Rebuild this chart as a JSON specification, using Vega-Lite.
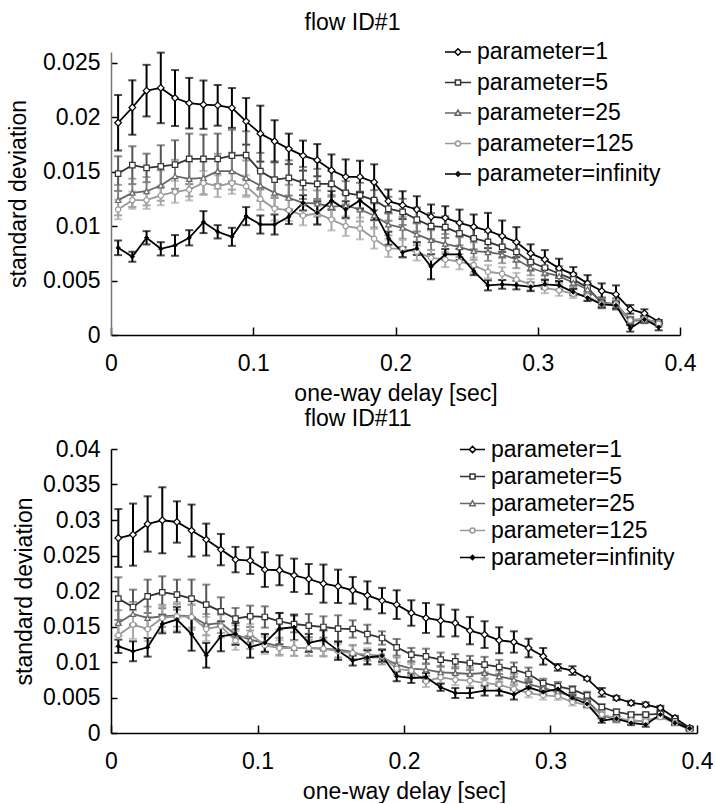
{
"$schema": "https://vega.github.io/schema/vega-lite/v6.json",
"padding": {"left": 7, "top": 12, "right": 0, "bottom": 0},
"columns": 1,
"align": "none",
"spacing": 3,
"resolve": {"scale": {"shape": "independent", "stroke": "independent", "fill": "independent", "color": "independent"}, "legend": {"shape": "independent", "stroke": "independent", "fill": "independent"}},
"config": {
 "font": "Liberation Sans",
 "view": {"stroke": null},
 "axis": {"labelFontSize": 23, "titleFontSize": 23, "titleFontWeight": "normal", "labelColor": "black", "titleColor": "black", "grid": false, "domainColor": "black", "tickColor": "black", "domainWidth": 1.5, "tickWidth": 1.5, "labelFont": "Liberation Sans", "titleFont": "Liberation Sans", "labelFlush": false},
 "title": {"fontSize": 23, "fontWeight": "normal", "color": "black", "font": "Liberation Sans"},
 "legend": {"labelFontSize": 23, "labelColor": "black", "labelOffset": 5, "padding": 0, "symbolStrokeWidth": 1.5, "labelFont": "Liberation Sans", "labelLimit": 400}
},
"concat": [
{
 "width": 569, "height": 283,
 "title": {"text": "flow ID#1", "dx": -43, "offset": 3},
 "data": {"name": "top"},
 "encoding": {
  "x": {"field": "x", "type": "quantitative", "scale": {"domain": [0, 0.4], "nice": false, "zero": false}, "axis": {"values": [0, 0.1, 0.2, 0.3, 0.4], "format": "~g", "title": "one-way delay [sec]", "tickSize": -8, "labelPadding": 25, "titlePadding": 7}},
  "y": {"field": "y", "type": "quantitative", "scale": {"domain": [0, 0.026], "nice": false}, "axis": {"values": [0, 0.005, 0.01, 0.015, 0.02, 0.025], "format": "~g", "title": "standard deviation", "tickSize": -6, "labelPadding": 17, "titlePadding": 11.5, "domainColor": "#777777"}}
 },
 "layer": [
  {"mark": {"type": "errorbar", "ticks": {"size": 8}, "thickness": 2}, "encoding": {"yError": {"field": "e"}, "color": {"field": "s", "type": "nominal", "scale": {"domain": ["1", "5", "25", "125", "infinity"], "range": ["#000000", "#555555", "#808080", "#aaaaaa", "#000000"]}, "legend": null}}},
  {"mark": {"type": "line", "strokeWidth": 1.8}, "encoding": {"color": {"field": "s", "type": "nominal", "scale": {"domain": ["1", "5", "25", "125", "infinity"], "range": ["#000000", "#333333", "#666666", "#999999", "#000000"]}, "legend": null}}},
  {"transform": [{"filter": "datum.s == '1'"}], "mark": {"type": "point", "shape": "diamond", "filled": true, "fill": "white", "stroke": "black", "strokeWidth": 1.2, "size": 45, "opacity": 1}},
  {"transform": [{"filter": "datum.s == '5'"}], "mark": {"type": "point", "shape": "square", "filled": true, "fill": "white", "stroke": "#333333", "strokeWidth": 1.2, "size": 30, "opacity": 1}},
  {"transform": [{"filter": "datum.s == '25'"}], "mark": {"type": "point", "shape": "triangle-up", "filled": true, "fill": "white", "stroke": "#666666", "strokeWidth": 1.2, "size": 30, "opacity": 1}},
  {"transform": [{"filter": "datum.s == '125'"}], "mark": {"type": "point", "shape": "circle", "filled": true, "fill": "white", "stroke": "#999999", "strokeWidth": 1.2, "size": 28, "opacity": 1}},
  {"transform": [{"filter": "datum.s == 'infinity'"}], "mark": {"type": "point", "shape": "diamond", "filled": true, "fill": "black", "stroke": "black", "strokeWidth": 1, "size": 18, "opacity": 1}},
  {"mark": {"type": "point", "filled": true, "opacity": 0, "size": 676},
   "encoding": {
    "shape": {"field": "s", "type": "nominal", "scale": {"domain": ["1", "5", "25", "125", "infinity"], "range": ["M-1,0H-0.25M0.25,0H1M-0.25,0L0,-0.25L0.25,0L0,0.25Z", "M-1,0H-0.2M0.2,0H1M-0.2,-0.2H0.2V0.2H-0.2Z", "M-1,0H-0.12M0.12,0H1M-0.22,0.17L0,-0.22L0.22,0.17Z", "M-1,0H-0.2M0.2,0H1M-0.2,0A0.2,0.2,0,1,0,0.2,0A0.2,0.2,0,1,0,-0.2,0Z", "M-1,0H1M-0.17,0L0,-0.17L0.17,0L0,0.17Z"]}, "legend": {"title": null, "orient": "none", "legendX": 333, "legendY": -14, "symbolSize": 676, "rowPadding": 4.5, "labelFontSize": 23, "labelLimit": 400, "labelExpr": "'parameter=' + datum.label"}},
    "stroke": {"field": "s", "type": "nominal", "scale": {"domain": ["1", "5", "25", "125", "infinity"], "range": ["#000000", "#333333", "#666666", "#999999", "#000000"]}, "legend": {"title": null, "orient": "none", "legendX": 333, "legendY": -14, "symbolSize": 676, "rowPadding": 4.5, "labelFontSize": 23, "labelLimit": 400, "labelExpr": "'parameter=' + datum.label"}},
    "fill": {"field": "s", "type": "nominal", "scale": {"domain": ["1", "5", "25", "125", "infinity"], "range": ["#ffffff", "#ffffff", "#ffffff", "#ffffff", "#000000"]}, "legend": {"title": null, "orient": "none", "legendX": 333, "legendY": -14, "symbolSize": 676, "rowPadding": 4.5, "labelFontSize": 23, "labelLimit": 400, "labelExpr": "'parameter=' + datum.label"}}
   }}
 ],
 "resolve": {"scale": {"color": "independent"}}
},
{
 "width": 586, "height": 284,
 "title": {"text": "flow ID#11", "dx": -46, "offset": 5},
 "data": {"name": "bot"},
 "encoding": {
  "x": {"field": "x", "type": "quantitative", "scale": {"domain": [0, 0.4], "nice": false, "zero": false}, "axis": {"values": [0, 0.1, 0.2, 0.3, 0.4], "format": "~g", "title": "one-way delay [sec]", "tickSize": -8, "labelPadding": 25, "titlePadding": 7}},
  "y": {"field": "y", "type": "quantitative", "scale": {"domain": [0, 0.04], "nice": false}, "axis": {"values": [0, 0.005, 0.01, 0.015, 0.02, 0.025, 0.03, 0.035, 0.04], "format": "~g", "title": "standard deviation", "tickSize": -6, "labelPadding": 17, "titlePadding": 5.5}}
 },
 "layer": [
  {"mark": {"type": "errorbar", "ticks": {"size": 8}, "thickness": 2}, "encoding": {"yError": {"field": "e"}, "color": {"field": "s", "type": "nominal", "scale": {"domain": ["1", "5", "25", "125", "infinity"], "range": ["#000000", "#555555", "#808080", "#aaaaaa", "#000000"]}, "legend": null}}},
  {"mark": {"type": "line", "strokeWidth": 1.8}, "encoding": {"color": {"field": "s", "type": "nominal", "scale": {"domain": ["1", "5", "25", "125", "infinity"], "range": ["#000000", "#333333", "#666666", "#999999", "#000000"]}, "legend": null}}},
  {"transform": [{"filter": "datum.s == '1'"}], "mark": {"type": "point", "shape": "diamond", "filled": true, "fill": "white", "stroke": "black", "strokeWidth": 1.2, "size": 45, "opacity": 1}},
  {"transform": [{"filter": "datum.s == '5'"}], "mark": {"type": "point", "shape": "square", "filled": true, "fill": "white", "stroke": "#333333", "strokeWidth": 1.2, "size": 30, "opacity": 1}},
  {"transform": [{"filter": "datum.s == '25'"}], "mark": {"type": "point", "shape": "triangle-up", "filled": true, "fill": "white", "stroke": "#666666", "strokeWidth": 1.2, "size": 30, "opacity": 1}},
  {"transform": [{"filter": "datum.s == '125'"}], "mark": {"type": "point", "shape": "circle", "filled": true, "fill": "white", "stroke": "#999999", "strokeWidth": 1.2, "size": 28, "opacity": 1}},
  {"transform": [{"filter": "datum.s == 'infinity'"}], "mark": {"type": "point", "shape": "diamond", "filled": true, "fill": "black", "stroke": "black", "strokeWidth": 1, "size": 18, "opacity": 1}},
  {"mark": {"type": "point", "filled": true, "opacity": 0, "size": 625},
   "encoding": {
    "shape": {"field": "s", "type": "nominal", "scale": {"domain": ["1", "5", "25", "125", "infinity"], "range": ["M-1,0H-0.25M0.25,0H1M-0.25,0L0,-0.25L0.25,0L0,0.25Z", "M-1,0H-0.2M0.2,0H1M-0.2,-0.2H0.2V0.2H-0.2Z", "M-1,0H-0.12M0.12,0H1M-0.22,0.17L0,-0.22L0.22,0.17Z", "M-1,0H-0.2M0.2,0H1M-0.2,0A0.2,0.2,0,1,0,0.2,0A0.2,0.2,0,1,0,-0.2,0Z", "M-1,0H1M-0.17,0L0,-0.17L0.17,0L0,0.17Z"]}, "legend": {"title": null, "orient": "none", "legendX": 348, "legendY": -13, "symbolSize": 625, "rowPadding": 1, "labelFontSize": 23, "labelLimit": 400, "labelExpr": "'parameter=' + datum.label"}},
    "stroke": {"field": "s", "type": "nominal", "scale": {"domain": ["1", "5", "25", "125", "infinity"], "range": ["#000000", "#333333", "#666666", "#999999", "#000000"]}, "legend": {"title": null, "orient": "none", "legendX": 348, "legendY": -13, "symbolSize": 625, "rowPadding": 1, "labelFontSize": 23, "labelLimit": 400, "labelExpr": "'parameter=' + datum.label"}},
    "fill": {"field": "s", "type": "nominal", "scale": {"domain": ["1", "5", "25", "125", "infinity"], "range": ["#ffffff", "#ffffff", "#ffffff", "#ffffff", "#000000"]}, "legend": {"title": null, "orient": "none", "legendX": 348, "legendY": -13, "symbolSize": 625, "rowPadding": 1, "labelFontSize": 23, "labelLimit": 400, "labelExpr": "'parameter=' + datum.label"}}
   }}
 ],
 "resolve": {"scale": {"color": "independent"}}
}
],
"datasets": {
"top": [
{"s":"1","x":0.005,"y":0.0195,"e":0.00255},{"s":"1","x":0.015,"y":0.0209,"e":0.0025},{"s":"1","x":0.025,"y":0.02245,"e":0.00237},{"s":"1","x":0.035,"y":0.0227,"e":0.00324},{"s":"1","x":0.045,"y":0.02177,"e":0.00257},{"s":"1","x":0.055,"y":0.0213,"e":0.00232},{"s":"1","x":0.065,"y":0.02116,"e":0.00222},{"s":"1","x":0.075,"y":0.0211,"e":0.00187},{"s":"1","x":0.085,"y":0.02086,"e":0.00183},{"s":"1","x":0.095,"y":0.01963,"e":0.00214},{"s":"1","x":0.105,"y":0.0185,"e":0.00257},{"s":"1","x":0.115,"y":0.0178,"e":0.00193},{"s":"1","x":0.125,"y":0.0171,"e":0.0014},{"s":"1","x":0.135,"y":0.01648,"e":0.00138},{"s":"1","x":0.145,"y":0.01606,"e":0.00148},{"s":"1","x":0.155,"y":0.01514,"e":0.00145},{"s":"1","x":0.165,"y":0.01453,"e":0.0016},{"s":"1","x":0.175,"y":0.01453,"e":0.00148},{"s":"1","x":0.185,"y":0.01404,"e":0.00164},{"s":"1","x":0.195,"y":0.0123,"e":0.00107},{"s":"1","x":0.205,"y":0.01193,"e":0.00128},{"s":"1","x":0.215,"y":0.01153,"e":0.00122},{"s":"1","x":0.225,"y":0.01086,"e":0.00113},{"s":"1","x":0.235,"y":0.01076,"e":0.00107},{"s":"1","x":0.245,"y":0.0103,"e":0.00122},{"s":"1","x":0.255,"y":0.00994,"e":0.00113},{"s":"1","x":0.265,"y":0.0096,"e":0.00162},{"s":"1","x":0.275,"y":0.00908,"e":0.00144},{"s":"1","x":0.285,"y":0.00853,"e":0.00138},{"s":"1","x":0.295,"y":0.0075,"e":0.00083},{"s":"1","x":0.305,"y":0.00694,"e":0.00086},{"s":"1","x":0.315,"y":0.00612,"e":0.00089},{"s":"1","x":0.325,"y":0.00557,"e":0.00067},{"s":"1","x":0.335,"y":0.00474,"e":0.00076},{"s":"1","x":0.345,"y":0.00404,"e":0.0007},{"s":"1","x":0.355,"y":0.00373,"e":0.00083},{"s":"1","x":0.365,"y":0.00236,"e":0.0004},{"s":"1","x":0.375,"y":0.00199,"e":0.00037},{"s":"1","x":0.385,"y":0.00122,"e":0.00015},
{"s":"5","x":0.005,"y":0.01483,"e":0.00159},{"s":"5","x":0.015,"y":0.0156,"e":0.00174},{"s":"5","x":0.025,"y":0.01535,"e":0.00131},{"s":"5","x":0.035,"y":0.0155,"e":0.00193},{"s":"5","x":0.045,"y":0.01566,"e":0.00223},{"s":"5","x":0.055,"y":0.01618,"e":0.00232},{"s":"5","x":0.065,"y":0.01618,"e":0.00223},{"s":"5","x":0.075,"y":0.01618,"e":0.00232},{"s":"5","x":0.085,"y":0.01648,"e":0.00238},{"s":"5","x":0.095,"y":0.01652,"e":0.0022},{"s":"5","x":0.105,"y":0.01505,"e":0.00168},{"s":"5","x":0.115,"y":0.01428,"e":0.00168},{"s":"5","x":0.125,"y":0.01443,"e":0.00162},{"s":"5","x":0.135,"y":0.01397,"e":0.00147},{"s":"5","x":0.145,"y":0.01388,"e":0.00138},{"s":"5","x":0.155,"y":0.01388,"e":0.00116},{"s":"5","x":0.165,"y":0.01306,"e":0.00107},{"s":"5","x":0.175,"y":0.01282,"e":0.00116},{"s":"5","x":0.185,"y":0.01239,"e":0.00092},{"s":"5","x":0.195,"y":0.0116,"e":0.0011},{"s":"5","x":0.205,"y":0.01131,"e":0.0012},{"s":"5","x":0.215,"y":0.01061,"e":0.0011},{"s":"5","x":0.225,"y":0.01,"e":0.0012},{"s":"5","x":0.235,"y":0.00991,"e":0.001},{"s":"5","x":0.245,"y":0.00933,"e":0.0011},{"s":"5","x":0.255,"y":0.00887,"e":0.001},{"s":"5","x":0.265,"y":0.00856,"e":0.0009},{"s":"5","x":0.275,"y":0.0081,"e":0.001},{"s":"5","x":0.285,"y":0.00764,"e":0.0009},{"s":"5","x":0.295,"y":0.0067,"e":0.0008},{"s":"5","x":0.305,"y":0.00618,"e":0.0007},{"s":"5","x":0.315,"y":0.00563,"e":0.0007},{"s":"5","x":0.325,"y":0.00511,"e":0.0006},{"s":"5","x":0.335,"y":0.00434,"e":0.0006},{"s":"5","x":0.345,"y":0.00296,"e":0.0005},{"s":"5","x":0.355,"y":0.00287,"e":0.0005},{"s":"5","x":0.365,"y":0.00138,"e":0.0003},{"s":"5","x":0.375,"y":0.00144,"e":0.0003},{"s":"5","x":0.385,"y":0.00113,"e":0.0002},
{"s":"25","x":0.005,"y":0.01239,"e":0.0014},{"s":"25","x":0.015,"y":0.01306,"e":0.0013},{"s":"25","x":0.025,"y":0.01321,"e":0.0013},{"s":"25","x":0.035,"y":0.01373,"e":0.0014},{"s":"25","x":0.045,"y":0.01459,"e":0.0015},{"s":"25","x":0.055,"y":0.01434,"e":0.0016},{"s":"25","x":0.065,"y":0.01443,"e":0.0015},{"s":"25","x":0.075,"y":0.01505,"e":0.0016},{"s":"25","x":0.085,"y":0.01505,"e":0.0017},{"s":"25","x":0.095,"y":0.01443,"e":0.0016},{"s":"25","x":0.105,"y":0.01373,"e":0.0014},{"s":"25","x":0.115,"y":0.01306,"e":0.0013},{"s":"25","x":0.125,"y":0.0126,"e":0.0012},{"s":"25","x":0.135,"y":0.01214,"e":0.0012},{"s":"25","x":0.145,"y":0.01208,"e":0.0012},{"s":"25","x":0.155,"y":0.01177,"e":0.0011},{"s":"25","x":0.165,"y":0.0119,"e":0.0012},{"s":"25","x":0.175,"y":0.01153,"e":0.0011},{"s":"25","x":0.185,"y":0.01098,"e":0.0011},{"s":"25","x":0.195,"y":0.01015,"e":0.001},{"s":"25","x":0.205,"y":0.00985,"e":0.001},{"s":"25","x":0.215,"y":0.00924,"e":0.001},{"s":"25","x":0.225,"y":0.00872,"e":0.0009},{"s":"25","x":0.235,"y":0.00838,"e":0.0009},{"s":"25","x":0.245,"y":0.00807,"e":0.0009},{"s":"25","x":0.255,"y":0.00771,"e":0.0008},{"s":"25","x":0.265,"y":0.00761,"e":0.0008},{"s":"25","x":0.275,"y":0.0074,"e":0.0008},{"s":"25","x":0.285,"y":0.00694,"e":0.0008},{"s":"25","x":0.295,"y":0.00618,"e":0.0007},{"s":"25","x":0.305,"y":0.00572,"e":0.0006},{"s":"25","x":0.315,"y":0.00541,"e":0.0006},{"s":"25","x":0.325,"y":0.0048,"e":0.0005},{"s":"25","x":0.335,"y":0.00419,"e":0.0005},{"s":"25","x":0.345,"y":0.00303,"e":0.0004},{"s":"25","x":0.355,"y":0.00272,"e":0.0004},{"s":"25","x":0.365,"y":0.00128,"e":0.0003},{"s":"25","x":0.375,"y":0.00138,"e":0.0003},{"s":"25","x":0.385,"y":0.00098,"e":0.0002},
{"s":"125","x":0.005,"y":0.01153,"e":0.0009},{"s":"125","x":0.015,"y":0.01239,"e":0.0008},{"s":"125","x":0.025,"y":0.01239,"e":0.0008},{"s":"125","x":0.035,"y":0.01282,"e":0.0009},{"s":"125","x":0.045,"y":0.01315,"e":0.001},{"s":"125","x":0.055,"y":0.01336,"e":0.001},{"s":"125","x":0.065,"y":0.01397,"e":0.0011},{"s":"125","x":0.075,"y":0.01367,"e":0.001},{"s":"125","x":0.085,"y":0.01397,"e":0.001},{"s":"125","x":0.095,"y":0.01367,"e":0.001},{"s":"125","x":0.105,"y":0.0125,"e":0.001},{"s":"125","x":0.115,"y":0.01162,"e":0.0011},{"s":"125","x":0.125,"y":0.01147,"e":0.001},{"s":"125","x":0.135,"y":0.01098,"e":0.0009},{"s":"125","x":0.145,"y":0.01116,"e":0.001},{"s":"125","x":0.155,"y":0.01061,"e":0.001},{"s":"125","x":0.165,"y":0.01,"e":0.0009},{"s":"125","x":0.175,"y":0.00979,"e":0.001},{"s":"125","x":0.185,"y":0.00884,"e":0.0009},{"s":"125","x":0.195,"y":0.00796,"e":0.0008},{"s":"125","x":0.205,"y":0.00792,"e":0.0008},{"s":"125","x":0.215,"y":0.00764,"e":0.0008},{"s":"125","x":0.225,"y":0.00709,"e":0.0007},{"s":"125","x":0.235,"y":0.00694,"e":0.0007},{"s":"125","x":0.245,"y":0.00673,"e":0.0007},{"s":"125","x":0.255,"y":0.00642,"e":0.0007},{"s":"125","x":0.265,"y":0.00581,"e":0.0006},{"s":"125","x":0.275,"y":0.00563,"e":0.0006},{"s":"125","x":0.285,"y":0.00511,"e":0.0006},{"s":"125","x":0.295,"y":0.00465,"e":0.0005},{"s":"125","x":0.305,"y":0.00434,"e":0.0005},{"s":"125","x":0.315,"y":0.0041,"e":0.0005},{"s":"125","x":0.325,"y":0.00379,"e":0.0004},{"s":"125","x":0.335,"y":0.00358,"e":0.0004},{"s":"125","x":0.345,"y":0.00287,"e":0.0004},{"s":"125","x":0.355,"y":0.00282,"e":0.0004},{"s":"125","x":0.365,"y":0.00135,"e":0.0003},{"s":"125","x":0.375,"y":0.0015,"e":0.0003},{"s":"125","x":0.385,"y":0.00104,"e":0.0002},
{"s":"infinity","x":0.005,"y":0.00801,"e":0.00067},{"s":"infinity","x":0.015,"y":0.00719,"e":0.00046},{"s":"infinity","x":0.025,"y":0.00893,"e":0.00061},{"s":"infinity","x":0.035,"y":0.00792,"e":0.00061},{"s":"infinity","x":0.045,"y":0.00823,"e":0.00095},{"s":"infinity","x":0.055,"y":0.00893,"e":0.0007},{"s":"infinity","x":0.065,"y":0.01037,"e":0.00101},{"s":"infinity","x":0.075,"y":0.00948,"e":0.00061},{"s":"infinity","x":0.085,"y":0.00902,"e":0.00083},{"s":"infinity","x":0.095,"y":0.01092,"e":0.00083},{"s":"infinity","x":0.105,"y":0.01015,"e":0.00083},{"s":"infinity","x":0.115,"y":0.01015,"e":0.00092},{"s":"infinity","x":0.125,"y":0.01086,"e":0.00067},{"s":"infinity","x":0.135,"y":0.01214,"e":0.0007},{"s":"infinity","x":0.145,"y":0.01122,"e":0.00107},{"s":"infinity","x":0.155,"y":0.01236,"e":0.00086},{"s":"infinity","x":0.165,"y":0.01153,"e":0.00076},{"s":"infinity","x":0.175,"y":0.01236,"e":0.0008},{"s":"infinity","x":0.185,"y":0.01138,"e":0.00083},{"s":"infinity","x":0.195,"y":0.00889,"e":0.0006},{"s":"infinity","x":0.205,"y":0.00761,"e":0.00046},{"s":"infinity","x":0.215,"y":0.00795,"e":0.0006},{"s":"infinity","x":0.225,"y":0.00627,"e":0.00115},{"s":"infinity","x":0.235,"y":0.0074,"e":0.0005},{"s":"infinity","x":0.245,"y":0.0074,"e":0.0005},{"s":"infinity","x":0.255,"y":0.00587,"e":0.00037},{"s":"infinity","x":0.265,"y":0.00456,"e":0.00046},{"s":"infinity","x":0.275,"y":0.00465,"e":0.0004},{"s":"infinity","x":0.285,"y":0.00459,"e":0.0004},{"s":"infinity","x":0.295,"y":0.00443,"e":0.0004},{"s":"infinity","x":0.305,"y":0.00465,"e":0.0004},{"s":"infinity","x":0.315,"y":0.00456,"e":0.0004},{"s":"infinity","x":0.325,"y":0.00394,"e":0.0003},{"s":"infinity","x":0.335,"y":0.00342,"e":0.0003},{"s":"infinity","x":0.345,"y":0.00282,"e":0.0003},{"s":"infinity","x":0.355,"y":0.00272,"e":0.0003},{"s":"infinity","x":0.365,"y":0.00061,"e":0.0003},{"s":"infinity","x":0.375,"y":0.00144,"e":0.0003},{"s":"infinity","x":0.385,"y":0.00073,"e":0.0003}
],
"bot": [
{"s":"1","x":0.005,"y":0.02746,"e":0.00408},{"s":"1","x":0.015,"y":0.02794,"e":0.00437},{"s":"1","x":0.025,"y":0.02944,"e":0.0039},{"s":"1","x":0.035,"y":0.02996,"e":0.00465},{"s":"1","x":0.045,"y":0.02972,"e":0.00291},{"s":"1","x":0.055,"y":0.02851,"e":0.00366},{"s":"1","x":0.065,"y":0.02724,"e":0.00225},{"s":"1","x":0.075,"y":0.02583,"e":0.00221},{"s":"1","x":0.085,"y":0.02442,"e":0.00179},{"s":"1","x":0.095,"y":0.02428,"e":0.00188},{"s":"1","x":0.105,"y":0.02301,"e":0.00244},{"s":"1","x":0.115,"y":0.02292,"e":0.00211},{"s":"1","x":0.125,"y":0.02221,"e":0.00235},{"s":"1","x":0.135,"y":0.02169,"e":0.00211},{"s":"1","x":0.145,"y":0.02104,"e":0.00268},{"s":"1","x":0.155,"y":0.02066,"e":0.00235},{"s":"1","x":0.165,"y":0.0201,"e":0.00188},{"s":"1","x":0.175,"y":0.01939,"e":0.00197},{"s":"1","x":0.185,"y":0.01865,"e":0.00179},{"s":"1","x":0.195,"y":0.01808,"e":0.00202},{"s":"1","x":0.205,"y":0.0169,"e":0.00179},{"s":"1","x":0.215,"y":0.0162,"e":0.00211},{"s":"1","x":0.225,"y":0.01583,"e":0.00225},{"s":"1","x":0.235,"y":0.01549,"e":0.00188},{"s":"1","x":0.245,"y":0.01442,"e":0.00193},{"s":"1","x":0.255,"y":0.01386,"e":0.00188},{"s":"1","x":0.265,"y":0.01306,"e":0.00183},{"s":"1","x":0.275,"y":0.01282,"e":0.0015},{"s":"1","x":0.285,"y":0.01197,"e":0.00131},{"s":"1","x":0.295,"y":0.0108,"e":0.00117},{"s":"1","x":0.305,"y":0.00925,"e":0.00047},{"s":"1","x":0.315,"y":0.00879,"e":0.00061},{"s":"1","x":0.325,"y":0.00766,"e":0.0002},{"s":"1","x":0.335,"y":0.00573,"e":0.00061},{"s":"1","x":0.345,"y":0.00493,"e":0.0003},{"s":"1","x":0.355,"y":0.00423,"e":0.0003},{"s":"1","x":0.365,"y":0.004,"e":0.0003},{"s":"1","x":0.375,"y":0.00352,"e":0.0003},{"s":"1","x":0.385,"y":0.00211,"e":0.0003},{"s":"1","x":0.395,"y":0.0007,"e":0.0002},
{"s":"5","x":0.005,"y":0.01893,"e":0.003},{"s":"5","x":0.015,"y":0.01775,"e":0.00244},{"s":"5","x":0.025,"y":0.01925,"e":0.00235},{"s":"5","x":0.035,"y":0.01982,"e":0.00225},{"s":"5","x":0.045,"y":0.01949,"e":0.00211},{"s":"5","x":0.055,"y":0.01893,"e":0.00268},{"s":"5","x":0.065,"y":0.01808,"e":0.00282},{"s":"5","x":0.075,"y":0.01714,"e":0.00197},{"s":"5","x":0.085,"y":0.01611,"e":0.0015},{"s":"5","x":0.095,"y":0.01644,"e":0.0015},{"s":"5","x":0.105,"y":0.01634,"e":0.0015},{"s":"5","x":0.115,"y":0.01573,"e":0.00117},{"s":"5","x":0.125,"y":0.01535,"e":0.00117},{"s":"5","x":0.135,"y":0.01512,"e":0.00164},{"s":"5","x":0.145,"y":0.01493,"e":0.0015},{"s":"5","x":0.155,"y":0.0147,"e":0.00188},{"s":"5","x":0.165,"y":0.01465,"e":0.00122},{"s":"5","x":0.175,"y":0.01394,"e":0.00131},{"s":"5","x":0.185,"y":0.01338,"e":0.00094},{"s":"5","x":0.195,"y":0.01207,"e":0.00117},{"s":"5","x":0.205,"y":0.01104,"e":0.00094},{"s":"5","x":0.215,"y":0.0108,"e":0.00108},{"s":"5","x":0.225,"y":0.01033,"e":0.001},{"s":"5","x":0.235,"y":0.0101,"e":0.001},{"s":"5","x":0.245,"y":0.00986,"e":0.001},{"s":"5","x":0.255,"y":0.00963,"e":0.0011},{"s":"5","x":0.265,"y":0.0093,"e":0.001},{"s":"5","x":0.275,"y":0.00893,"e":0.001},{"s":"5","x":0.285,"y":0.00831,"e":0.0009},{"s":"5","x":0.295,"y":0.00704,"e":0.0006},{"s":"5","x":0.305,"y":0.00658,"e":0.0006},{"s":"5","x":0.315,"y":0.00611,"e":0.0005},{"s":"5","x":0.325,"y":0.00531,"e":0.0005},{"s":"5","x":0.335,"y":0.00366,"e":0.0004},{"s":"5","x":0.345,"y":0.00296,"e":0.0004},{"s":"5","x":0.355,"y":0.00259,"e":0.0003},{"s":"5","x":0.365,"y":0.00259,"e":0.0003},{"s":"5","x":0.375,"y":0.00268,"e":0.0003},{"s":"5","x":0.385,"y":0.00165,"e":0.0003},{"s":"5","x":0.395,"y":0.00062,"e":0.0002},
{"s":"25","x":0.005,"y":0.01549,"e":0.0018},{"s":"25","x":0.015,"y":0.01676,"e":0.0017},{"s":"25","x":0.025,"y":0.0162,"e":0.0016},{"s":"25","x":0.035,"y":0.01644,"e":0.0015},{"s":"25","x":0.045,"y":0.01658,"e":0.0016},{"s":"25","x":0.055,"y":0.01644,"e":0.0016},{"s":"25","x":0.065,"y":0.01526,"e":0.0015},{"s":"25","x":0.075,"y":0.01549,"e":0.0014},{"s":"25","x":0.085,"y":0.01386,"e":0.0013},{"s":"25","x":0.095,"y":0.01315,"e":0.0013},{"s":"25","x":0.105,"y":0.01268,"e":0.0012},{"s":"25","x":0.115,"y":0.01221,"e":0.0012},{"s":"25","x":0.125,"y":0.01197,"e":0.0011},{"s":"25","x":0.135,"y":0.01197,"e":0.0011},{"s":"25","x":0.145,"y":0.01188,"e":0.0011},{"s":"25","x":0.155,"y":0.01174,"e":0.0011},{"s":"25","x":0.165,"y":0.01141,"e":0.001},{"s":"25","x":0.175,"y":0.01066,"e":0.001},{"s":"25","x":0.185,"y":0.01066,"e":0.001},{"s":"25","x":0.195,"y":0.00963,"e":0.001},{"s":"25","x":0.205,"y":0.00907,"e":0.0009},{"s":"25","x":0.215,"y":0.00893,"e":0.0009},{"s":"25","x":0.225,"y":0.00855,"e":0.0009},{"s":"25","x":0.235,"y":0.00845,"e":0.0009},{"s":"25","x":0.245,"y":0.00831,"e":0.0009},{"s":"25","x":0.255,"y":0.00845,"e":0.0009},{"s":"25","x":0.265,"y":0.00799,"e":0.0008},{"s":"25","x":0.275,"y":0.00752,"e":0.0008},{"s":"25","x":0.285,"y":0.0069,"e":0.0007},{"s":"25","x":0.295,"y":0.00634,"e":0.0007},{"s":"25","x":0.305,"y":0.00577,"e":0.0006},{"s":"25","x":0.315,"y":0.00517,"e":0.0006},{"s":"25","x":0.325,"y":0.00456,"e":0.0005},{"s":"25","x":0.335,"y":0.00249,"e":0.0004},{"s":"25","x":0.345,"y":0.00189,"e":0.0004},{"s":"25","x":0.355,"y":0.00179,"e":0.0003},{"s":"25","x":0.365,"y":0.00165,"e":0.0003},{"s":"25","x":0.375,"y":0.00235,"e":0.0003},{"s":"25","x":0.385,"y":0.00141,"e":0.0003},{"s":"25","x":0.395,"y":0.00048,"e":0.0002},
{"s":"125","x":0.005,"y":0.01376,"e":0.0016},{"s":"125","x":0.015,"y":0.01526,"e":0.002},{"s":"125","x":0.025,"y":0.01465,"e":0.0017},{"s":"125","x":0.035,"y":0.0162,"e":0.0019},{"s":"125","x":0.045,"y":0.01644,"e":0.002},{"s":"125","x":0.055,"y":0.01634,"e":0.0018},{"s":"125","x":0.065,"y":0.01465,"e":0.0017},{"s":"125","x":0.075,"y":0.01503,"e":0.0016},{"s":"125","x":0.085,"y":0.01301,"e":0.0013},{"s":"125","x":0.095,"y":0.01394,"e":0.0014},{"s":"125","x":0.105,"y":0.01235,"e":0.0012},{"s":"125","x":0.115,"y":0.01197,"e":0.0011},{"s":"125","x":0.125,"y":0.01197,"e":0.0011},{"s":"125","x":0.135,"y":0.01197,"e":0.0011},{"s":"125","x":0.145,"y":0.01188,"e":0.001},{"s":"125","x":0.155,"y":0.01151,"e":0.001},{"s":"125","x":0.165,"y":0.01127,"e":0.001},{"s":"125","x":0.175,"y":0.01104,"e":0.0009},{"s":"125","x":0.185,"y":0.0109,"e":0.0009},{"s":"125","x":0.195,"y":0.00904,"e":0.0009},{"s":"125","x":0.205,"y":0.00879,"e":0.0009},{"s":"125","x":0.215,"y":0.00728,"e":0.0008},{"s":"125","x":0.225,"y":0.00785,"e":0.0008},{"s":"125","x":0.235,"y":0.00752,"e":0.0008},{"s":"125","x":0.245,"y":0.00738,"e":0.0008},{"s":"125","x":0.255,"y":0.00704,"e":0.0007},{"s":"125","x":0.265,"y":0.00682,"e":0.0007},{"s":"125","x":0.275,"y":0.0062,"e":0.0007},{"s":"125","x":0.285,"y":0.00563,"e":0.0006},{"s":"125","x":0.295,"y":0.00531,"e":0.0006},{"s":"125","x":0.305,"y":0.00517,"e":0.0005},{"s":"125","x":0.315,"y":0.00437,"e":0.0005},{"s":"125","x":0.325,"y":0.0039,"e":0.0004},{"s":"125","x":0.335,"y":0.00259,"e":0.0004},{"s":"125","x":0.345,"y":0.00211,"e":0.0003},{"s":"125","x":0.355,"y":0.00179,"e":0.0003},{"s":"125","x":0.365,"y":0.00165,"e":0.0003},{"s":"125","x":0.375,"y":0.00225,"e":0.0003},{"s":"125","x":0.385,"y":0.00141,"e":0.0002},{"s":"125","x":0.395,"y":0.00048,"e":0.0002},
{"s":"infinity","x":0.005,"y":0.01221,"e":0.00094},{"s":"infinity","x":0.015,"y":0.01151,"e":0.0014},{"s":"infinity","x":0.025,"y":0.01207,"e":0.00131},{"s":"infinity","x":0.035,"y":0.01535,"e":0.00131},{"s":"infinity","x":0.045,"y":0.01597,"e":0.00179},{"s":"infinity","x":0.055,"y":0.01394,"e":0.00235},{"s":"infinity","x":0.065,"y":0.01094,"e":0.00174},{"s":"infinity","x":0.075,"y":0.01362,"e":0.00211},{"s":"infinity","x":0.085,"y":0.01394,"e":0.00155},{"s":"infinity","x":0.095,"y":0.01211,"e":0.0015},{"s":"infinity","x":0.105,"y":0.01268,"e":0.00127},{"s":"infinity","x":0.115,"y":0.0147,"e":0.00221},{"s":"infinity","x":0.125,"y":0.01489,"e":0.00179},{"s":"infinity","x":0.135,"y":0.01268,"e":0.00127},{"s":"infinity","x":0.145,"y":0.01315,"e":0.00131},{"s":"infinity","x":0.155,"y":0.0116,"e":0.00131},{"s":"infinity","x":0.165,"y":0.0102,"e":0.0007},{"s":"infinity","x":0.175,"y":0.01066,"e":0.00099},{"s":"infinity","x":0.185,"y":0.0109,"e":0.00085},{"s":"infinity","x":0.195,"y":0.00799,"e":0.0007},{"s":"infinity","x":0.205,"y":0.00775,"e":0.0007},{"s":"infinity","x":0.215,"y":0.00785,"e":0.0006},{"s":"infinity","x":0.225,"y":0.00644,"e":0.0005},{"s":"infinity","x":0.235,"y":0.00563,"e":0.0007},{"s":"infinity","x":0.245,"y":0.00563,"e":0.0007},{"s":"infinity","x":0.255,"y":0.00597,"e":0.0007},{"s":"infinity","x":0.265,"y":0.00597,"e":0.0007},{"s":"infinity","x":0.275,"y":0.00541,"e":0.0007},{"s":"infinity","x":0.285,"y":0.00644,"e":0.0007},{"s":"infinity","x":0.295,"y":0.00577,"e":0.0004},{"s":"infinity","x":0.305,"y":0.0062,"e":0.0004},{"s":"infinity","x":0.315,"y":0.00493,"e":0.0004},{"s":"infinity","x":0.325,"y":0.00408,"e":0.0004},{"s":"infinity","x":0.335,"y":0.00175,"e":0.0003},{"s":"infinity","x":0.345,"y":0.00203,"e":0.0003},{"s":"infinity","x":0.355,"y":0.00141,"e":0.0003},{"s":"infinity","x":0.365,"y":0.00118,"e":0.0003},{"s":"infinity","x":0.375,"y":0.00259,"e":0.0003},{"s":"infinity","x":0.385,"y":0.00141,"e":0.0003},{"s":"infinity","x":0.395,"y":0.00062,"e":0.0002}
]
}
}
